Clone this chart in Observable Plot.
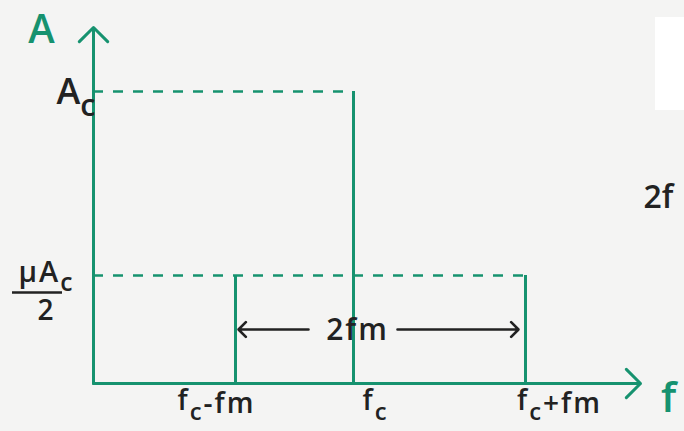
<!DOCTYPE html>
<html>
<head>
<meta charset="utf-8">
<script src="https://cdn.jsdelivr.net/npm/d3@7"></script>
<script src="https://cdn.jsdelivr.net/npm/@observablehq/plot@0.6"></script>
<style>
  html, body { margin: 0; padding: 0; background: #f4f4f3; }
  #chart { position: relative; width: 684px; height: 431px; overflow: hidden; }
  #chart svg { display: block; }
  .patch { position: absolute; left: 655px; top: 17px; width: 29px; height: 93px; background: #ffffff; }
</style>
</head>
<body>
<div id="chart"><div class="patch"></div></div>
<script>
// AM spectrum: carrier at fc with two side bands at fc ± fm
const freqLabels = ["f_c-fm", "f_c", "f_c+fm"];
const freqs = [1.42, 2.60, 4.32];          // lower side band, carrier, upper side band
const amps = [1.08, 2.92, 1.08];           // μAc/2, Ac, μAc/2
const ampLabels = ["μA_c", "A_c"];         // labels on the amplitude axis
const ampLevels = [1.08, 2.92];
const fMax = 5.47;                         // end of the frequency axis
const aMax = 3.56;                         // end of the amplitude axis

const teal = "#16926f";
const ink = "#222222";
const font = "'Open Sans', sans-serif";

const lines = freqs.map((f, i) => ({f, a: amps[i], label: freqLabels[i]}));
// one dashed guide per amplitude level, reaching the farthest line at that level
const guides = Array.from(d3.rollup(lines, v => d3.max(v, d => d.f), d => d.a), ([a, f]) => ({a, f}));
const lower = lines[0], carrier = lines[1], upper = lines[2];

const plot = Plot.plot({
  width: 684,
  height: 431,
  marginLeft: 93,
  marginRight: 44,
  marginTop: 27,
  marginBottom: 48,
  style: {background: "transparent", fontFamily: font},
  x: {domain: [0, fMax], axis: null},
  y: {domain: [0, aMax], axis: null},
  marks: [
    // dashed level guides
    Plot.ruleY(guides, {y: "a", x1: 0, x2: "f", stroke: teal, strokeWidth: 2.6, strokeDasharray: "10,10"}),
    // spectral lines
    Plot.ruleX(lines, {x: "f", y1: 0, y2: "a", stroke: teal, strokeWidth: 3}),
    // axes with open arrow heads
    Plot.arrow([{x1: 0, y1: 0, x2: 0, y2: aMax}], {x1: "x1", y1: "y1", x2: "x2", y2: "y2", stroke: teal, strokeWidth: 3, headLength: 10, headAngle: 90}),
    Plot.arrow([{x1: 0, y1: 0, x2: fMax, y2: 0}], {x1: "x1", y1: "y1", x2: "x2", y2: "y2", stroke: teal, strokeWidth: 3, headLength: 10, headAngle: 90}),
    // bandwidth marker 2fm
    Plot.arrow([{x1: carrier.f, x2: lower.f, y: lower.a / 2}], {x1: "x1", x2: "x2", y1: "y", y2: "y", stroke: ink, strokeWidth: 2.6, headLength: 6, headAngle: 90, insetStart: 45, insetEnd: 3}),
    Plot.arrow([{x1: carrier.f, x2: upper.f, y: upper.a / 2}], {x1: "x1", x2: "x2", y1: "y", y2: "y", stroke: ink, strokeWidth: 2.6, headLength: 6, headAngle: 90, insetStart: 44, insetEnd: 7}),
    Plot.text([{x: carrier.f, y: lower.a / 2}], {x: "x", y: "y", text: () => "2fm", dx: 4, dy: 1, fill: ink, fontSize: 30, fontWeight: 600, className: "hand"}),
    // frequency labels
    Plot.text([lower], {x: "f", y: 0, text: "label", dx: -19, dy: 18, fill: ink, fontSize: 28, fontWeight: 600, className: "hand"}),
    Plot.text([carrier], {x: "f", y: 0, text: "label", dx: 22, dy: 18, fill: ink, fontSize: 28, fontWeight: 600, className: "hand"}),
    Plot.text([upper], {x: "f", y: 0, text: "label", dx: 34, dy: 18, fill: ink, fontSize: 28, fontWeight: 600, className: "hand"}),
    // amplitude labels
    Plot.text([{y: ampLevels[1], t: ampLabels[1]}], {x: 0, y: "y", text: "t", textAnchor: "end", dx: 2, dy: 1, fill: ink, fontSize: 36, fontWeight: 600}),
    Plot.text([{y: ampLevels[0], t: ampLabels[0]}], {x: 0, y: "y", text: "t", dx: -47, dy: -3, fill: ink, fontSize: 29, fontWeight: 600, className: "hand"}),
    Plot.ruleY([ampLevels[0]], {x1: -0.81, x2: -0.31, dy: 17, stroke: ink, strokeWidth: 2.6}),
    Plot.text([ampLevels[0]], {x: 0, y: d => d, text: () => "2", dx: -48, dy: 36, fill: ink, fontSize: 28, fontWeight: 600}),
    // axis titles
    Plot.text(["A"], {x: 0, y: aMax, text: d => d, dx: -52, dy: 3, fill: teal, fontSize: 40, fontWeight: 600}),
    Plot.text(["f"], {x: fMax, y: 0, text: d => d, dx: 28, dy: 15, fill: teal, fontSize: 42, fontWeight: 600}),
    // neighbouring note at the right edge
    Plot.text(["2f"], {frameAnchor: "right", text: d => d, textAnchor: "start", dx: 3, dy: -8, fill: ink, fontSize: 32, fontWeight: 600})
  ]
});

// turn "_x" into a subscript x
d3.select(plot).selectAll("text").each(function () {
  const node = d3.select(this);
  const s = node.text();
  if (!s.includes("_")) return;
  const [head, rest] = s.split("_");
  node.text(null);
  node.append("tspan").text(head);
  node.append("tspan").attr("dy", "0.38em").attr("font-size", "0.85em").text(rest[0]);
  if (rest.length > 1) node.append("tspan").attr("dy", "-0.22em").text(rest.slice(1));
});
d3.select(plot).selectAll(".hand text").attr("letter-spacing", "2px");

document.getElementById("chart").prepend(plot);
</script>
</body>
</html>
